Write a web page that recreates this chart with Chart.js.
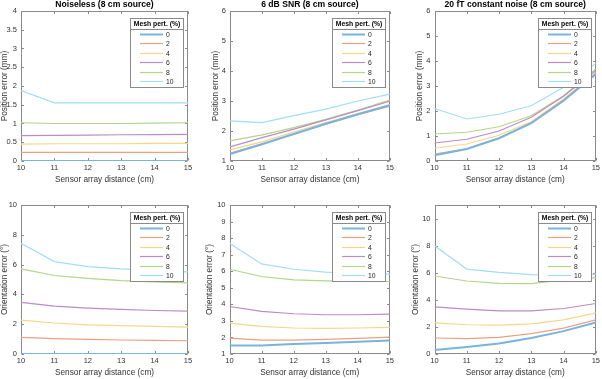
<!DOCTYPE html>
<html><head><meta charset="utf-8">
<script src="https://cdn.jsdelivr.net/npm/chart.js@4.4.1/dist/chart.umd.min.js"></script>
<style>
html,body{margin:0;padding:0;background:#fff;}
body{width:602px;height:379px;position:relative;overflow:hidden;}
canvas{position:absolute;}
</style></head><body>
<canvas id="c1"></canvas><canvas id="c2"></canvas><canvas id="c3"></canvas>
<canvas id="c4"></canvas><canvas id="c5"></canvas><canvas id="c6"></canvas>
<script>
// ---------- data ----------
const distances = [10, 11, 12, 13, 14, 15];
const meshPert = ['0', '2', '4', '6', '8', '10'];
const titles = ['Noiseless (8 cm source)', '6 dB SNR (8 cm source)', '20 fT constant noise (8 cm source)'];
const xLabel = 'Sensor array distance (cm)';
const yLabelPos = 'Position error (mm)';
const yLabelOri = 'Orientation error (°)';

const posNoiseless = [
  [0, 0, 0, 0, 0, 0],
  [0.23, 0.23, 0.23, 0.23, 0.23, 0.23],
  [0.45, 0.46, 0.46, 0.46, 0.47, 0.47],
  [0.675, 0.685, 0.69, 0.70, 0.705, 0.71],
  [1.02, 1.0, 1.0, 1.0, 1.01, 1.02],
  [1.875, 1.55, 1.55, 1.55, 1.55, 1.55]
];
const pos6dB = [
  [1.23, 1.56, 1.90, 2.24, 2.56, 2.86],
  [1.26, 1.57, 1.90, 2.23, 2.54, 2.83],
  [1.37, 1.64, 1.96, 2.28, 2.58, 2.88],
  [1.47, 1.78, 2.06, 2.37, 2.68, 2.99],
  [1.67, 1.87, 2.11, 2.39, 2.70, 3.03],
  [2.34, 2.28, 2.51, 2.73, 3.00, 3.23]
];
const pos20fT = [
  [0.23, 0.48, 0.91, 1.51, 2.41, 3.48],
  [0.28, 0.49, 0.92, 1.53, 2.44, 3.51],
  [0.51, 0.68, 1.03, 1.57, 2.48, 3.53],
  [0.72, 0.87, 1.20, 1.75, 2.59, 3.61],
  [1.08, 1.15, 1.37, 1.81, 2.61, 3.68],
  [2.10, 1.68, 1.87, 2.21, 2.95, 3.90]
];
const oriNoiseless = [
  [0, 0, 0, 0, 0, 0],
  [1.12, 1.03, 0.98, 0.94, 0.92, 0.89],
  [2.28, 2.08, 1.96, 1.90, 1.85, 1.81],
  [3.46, 3.21, 3.08, 2.99, 2.92, 2.88],
  [5.71, 5.27, 5.07, 4.93, 4.84, 4.78],
  [7.43, 6.20, 5.87, 5.71, 5.60, 5.51]
];
const ori6dB = [
  [1.52, 1.52, 1.60, 1.66, 1.74, 1.82],
  [1.96, 1.84, 1.84, 1.88, 1.94, 2.02],
  [2.87, 2.67, 2.57, 2.55, 2.57, 2.61],
  [3.87, 3.57, 3.43, 3.37, 3.37, 3.41],
  [6.12, 5.68, 5.48, 5.42, 5.42, 5.38],
  [7.69, 6.44, 6.12, 5.94, 5.88, 5.82]
];
const ori20fT = [
  [0.29, 0.51, 0.78, 1.18, 1.69, 2.33],
  [1.18, 1.13, 1.23, 1.50, 1.91, 2.52],
  [2.30, 2.16, 2.13, 2.23, 2.52, 3.04],
  [3.48, 3.31, 3.19, 3.19, 3.36, 3.73],
  [5.76, 5.39, 5.22, 5.20, 5.47, 5.64],
  [7.99, 6.27, 6.03, 5.86, 5.80, 5.90]
];
// y axis ranges [min, max, step]
const yRanges = [[0, 4, 0.5], [1, 6, 1], [0, 6, 1], [0, 10, 2], [1, 10, 1], [0, 11, 2]];

// ---------- style ----------
const FONT = '"Liberation Sans", Arial, Helvetica, sans-serif';
const lineColors = [
  'rgb(120,180,222)', 'rgb(236,160,130)', 'rgb(246,214,138)',
  'rgb(188,140,198)', 'rgb(180,212,140)', 'rgb(160,222,248)'
];
const lineWidths = [2, 1.2, 1.2, 1.2, 1.2, 1.2];
const frameColor = '#8a8a8a';

const framePlugin = {
  id: 'frame',
  beforeDatasetsDraw(chart) {
    const {ctx, chartArea: a, scales} = chart;
    ctx.save();
    ctx.strokeStyle = frameColor;
    ctx.lineWidth = 1;
    const L = Math.round(a.left) + 0.5, R = Math.round(a.right) - 0.5;
    const T = Math.round(a.top) + 0.5, B = Math.round(a.bottom) - 0.5;
    ctx.strokeRect(L, T, R - L, B - T);
    ctx.beginPath();
    scales.x.ticks.forEach(t => {
      const px = Math.round(scales.x.getPixelForValue(t.value)) + 0.5;
      ctx.moveTo(px, B); ctx.lineTo(px, B - 2.5);
      ctx.moveTo(px, T); ctx.lineTo(px, T + 2.5);
    });
    scales.y.ticks.forEach(t => {
      const py = Math.round(scales.y.getPixelForValue(t.value)) + 0.5;
      ctx.moveTo(L, py); ctx.lineTo(L + 2.5, py);
      ctx.moveTo(R, py); ctx.lineTo(R - 2.5, py);
    });
    ctx.stroke();
    ctx.restore();
  }
};

const legendPlugin = {
  id: 'boxLegend',
  afterDraw(chart) {
    const {ctx, chartArea: a} = chart;
    const w = 54, h = 70;
    const x = Math.round(a.right - 4 - w), y = Math.round(a.top + 7);
    ctx.save();
    ctx.fillStyle = '#fff';
    ctx.fillRect(x, y, w, h);
    ctx.strokeStyle = '#8a8a8a';
    ctx.lineWidth = 1;
    ctx.strokeRect(x + 0.5, y + 0.5, w - 1, h - 1);
    ctx.beginPath();
    ctx.moveTo(x, y + 11.5); ctx.lineTo(x + w, y + 11.5);
    ctx.stroke();
    ctx.fillStyle = '#000';
    ctx.font = 'bold 6.8px ' + FONT;
    ctx.textAlign = 'center';
    ctx.textBaseline = 'middle';
    ctx.fillText('Mesh pert. (%)', x + w / 2, y + 6);
    ctx.font = '6.8px ' + FONT;
    ctx.textAlign = 'left';
    chart.data.datasets.forEach((ds, i) => {
      const yy = Math.round(y + 16 + i * 9.4) + 0.5;
      ctx.strokeStyle = ds.borderColor;
      ctx.lineWidth = ds.borderWidth;
      ctx.beginPath();
      ctx.moveTo(x + 10, yy); ctx.lineTo(x + 33, yy);
      ctx.stroke();
      ctx.fillStyle = '#262626';
      ctx.fillText(ds.label, x + 36, yy + 0.5);
    });
    ctx.restore();
  }
};

// panel geometry: canvas left, top, width, height, y-axis width, right pad, x-axis height, x-title pad, top pad
const panels = [
  {id: 'c1', data: posNoiseless, yl: yLabelPos, title: titles[0], L: 0,   T: 0,   W: 200, H: 190, yw: 21,   pr: 12, xh: 29, xtp: 5.05, pt: 0},
  {id: 'c2', data: pos6dB,       yl: yLabelPos, title: titles[1], L: 211, T: 0,   W: 185, H: 190, yw: 19,   pr: 5,  xh: 29, xtp: 5.05, pt: 0},
  {id: 'c3', data: pos20fT,      yl: yLabelPos, title: titles[2], L: 415, T: 0,   W: 187, H: 190, yw: 19.5, pr: 6,  xh: 29, xtp: 5.05, pt: 0},
  {id: 'c4', data: oriNoiseless, yl: yLabelOri, title: null,      L: 0,   T: 190, W: 200, H: 189, yw: 21,   pr: 12, xh: 25, xtp: 1.05, pt: 15},
  {id: 'c5', data: ori6dB,       yl: yLabelOri, title: null,      L: 205, T: 190, W: 191, H: 189, yw: 24.5, pr: 5,  xh: 25, xtp: 1.05, pt: 15},
  {id: 'c6', data: ori20fT,      yl: yLabelOri, title: null,      L: 411, T: 190, W: 191, H: 189, yw: 23.5, pr: 6,  xh: 25, xtp: 1.05, pt: 15}
];

panels.forEach((p, idx) => {
  const cv = document.getElementById(p.id);
  cv.width = p.W; cv.height = p.H;
  cv.style.left = p.L + 'px'; cv.style.top = p.T + 'px';
  cv.style.width = p.W + 'px'; cv.style.height = p.H + 'px';
  const [ymin, ymax, ystep] = yRanges[idx];
  const datasets = p.data.map((series, i) => ({
    label: meshPert[i],
    data: distances.map((d, k) => ({x: d, y: series[k]})),
    borderColor: lineColors[i],
    borderWidth: lineWidths[i],
    pointRadius: 0,
    tension: 0,
    fill: false
  }));
  new Chart(cv, {
    type: 'line',
    data: {datasets},
    plugins: [framePlugin, legendPlugin],
    options: {
      responsive: false,
      animation: false,
      devicePixelRatio: 1,
      layout: {padding: {left: 0, right: p.pr, top: p.pt, bottom: 0}},
      plugins: {
        legend: {display: false},
        tooltip: {enabled: false},
        title: {
          display: !!p.title,
          text: p.title || '',
          fullSize: false,
          color: '#000',
          font: {family: FONT, size: 8.6, weight: 'bold', lineHeight: 1.15},
          padding: {top: 0, bottom: 1.1}
        }
      },
      scales: {
        x: {
          type: 'linear', min: 10, max: 15,
          grid: {display: false, drawTicks: false},
          border: {display: false},
          ticks: {stepSize: 1, padding: 2, color: '#333', font: {family: FONT, size: 7.5}, maxRotation: 0,
                  callback: v => String(v)},
          title: {display: true, text: xLabel, color: '#333', font: {family: FONT, size: 8.25, lineHeight: 1.2},
                  padding: {top: 0, bottom: p.xtp}},
          afterFit: s => { s.height = p.xh; }
        },
        y: {
          type: 'linear', min: ymin, max: ymax,
          grid: {display: false, drawTicks: false},
          border: {display: false},
          ticks: {stepSize: ystep, padding: 4, color: '#333', includeBounds: false, font: {family: FONT, size: 7.5},
                  callback: v => String(v)},
          title: {display: true, text: p.yl, color: '#333', font: {family: FONT, size: 8.25, lineHeight: 1.2},
                  padding: {top: 0, bottom: 0}},
          afterFit: s => { s.width = p.yw; }
        }
      }
    }
  });
});
</script>
</body></html>
